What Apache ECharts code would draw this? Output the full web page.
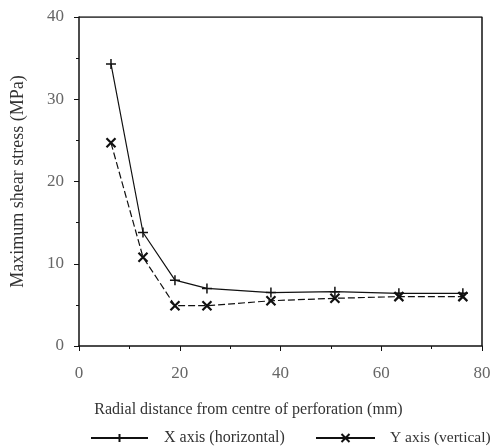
<!DOCTYPE html>
<html>
<head>
<meta charset="utf-8">
<script src="https://cdn.jsdelivr.net/npm/echarts@6/dist/echarts.min.js"></script>
<style>
  html, body { margin: 0; padding: 0; background: #fff; }
  #chart { width: 494px; height: 448px; }
</style>
</head>
<body>
<div id="chart"></div>
<script>
// radial distance (mm) of each gauge
const distances = [6.35, 12.7, 19.05, 25.4, 38.1, 50.8, 63.5, 76.2];
// maximum shear stress (MPa)
const xAxisStress = [34.3, 13.8, 8.0, 7.0, 6.5, 6.6, 6.4, 6.4];
const yAxisStress = [24.7, 10.8, 4.9, 4.9, 5.5, 5.8, 6.0, 6.0];
const seriesNames = ['X axis (horizontal)', 'Y axis (vertical)'];

const plusPath = 'path://M0,-1L0,1M-1,0L1,0';
const crossPath = 'path://M-1,-1L1,1M-1,1L1,-1';

const chart = echarts.init(document.getElementById('chart'));
const font = '"Liberation Serif", "DejaVu Serif", serif';

const legendText = { fontFamily: font, fontSize: 16, color: '#333' };

const option = {
  animation: false,
  backgroundColor: '#fff',
  textStyle: { fontFamily: font },
  grid: { left: 79, right: 12, top: 17, bottom: 102, outerBoundsMode: 'none' },
  legend: [
    {
      top: 425, left: 85,
      itemWidth: 57, itemHeight: 10,
      lineStyle: { type: 'solid' },
      textStyle: Object.assign({ padding: [0, 0, 0, 11] }, legendText),
      data: [seriesNames[0]]
    },
    {
      top: 425, left: 310,
      itemWidth: 59, itemHeight: 10,
      lineStyle: { type: 'solid' },
      textStyle: Object.assign({ padding: [0, 0, 0, 10] }, legendText, { fontSize: 15.5 }),
      data: [seriesNames[1]]
    }
  ],
  xAxis: {
    type: 'value',
    min: 0, max: 80, interval: 20,
    name: 'Radial distance from centre of perforation (mm)',
    nameLocation: 'middle',
    nameGap: 56,
    nameTextStyle: { fontFamily: font, fontSize: 16, color: '#333', padding: [0, 64, 0, 0] },
    axisLine: { onZero: false, lineStyle: { color: '#111', width: 1.5 } },
    axisTick: { show: true, length: 5, lineStyle: { color: '#111' } },
    minorTick: { show: true, splitNumber: 2, length: 3, lineStyle: { color: '#111' } },
    axisLabel: { fontFamily: font, fontSize: 17, color: '#666', margin: 19 },
    splitLine: { show: false }
  },
  yAxis: {
    type: 'value',
    min: 0, max: 40, interval: 10,
    name: 'Maximum shear stress (MPa)',
    nameLocation: 'middle',
    nameGap: 52,
    nameTextStyle: { fontFamily: font, fontSize: 18, color: '#333' },
    axisLine: { onZero: false, lineStyle: { color: '#111', width: 1.5 } },
    axisTick: { show: true, length: 5, lineStyle: { color: '#111' } },
    minorTick: { show: true, splitNumber: 2, length: 3, lineStyle: { color: '#111' } },
    axisLabel: { fontFamily: font, fontSize: 17, color: '#666', margin: 15 },
    splitLine: { show: false }
  },
  series: [
    {
      name: seriesNames[0],
      type: 'line',
      data: distances.map((d, i) => [d, xAxisStress[i]]),
      symbol: plusPath,
      symbolSize: 10,
      lineStyle: { color: '#111', width: 1.2 },
      itemStyle: { color: '#111', borderColor: '#111', borderWidth: 1.5 }
    },
    {
      name: seriesNames[1],
      type: 'line',
      data: distances.map((d, i) => [d, yAxisStress[i]]),
      symbol: crossPath,
      symbolSize: 9,
      lineStyle: { color: '#111', width: 1.2, type: [7, 3] },
      itemStyle: { color: '#111', borderColor: '#111', borderWidth: 2.2 }
    },
    {
      // box frame: top and right edges
      type: 'line',
      data: [[0, 40], [80, 40], [80, 0]],
      symbol: 'none',
      silent: true,
      lineStyle: { color: '#111', width: 1.5 },
      tooltip: { show: false }
    }
  ]
};

chart.setOption(option);
</script>
</body>
</html>
